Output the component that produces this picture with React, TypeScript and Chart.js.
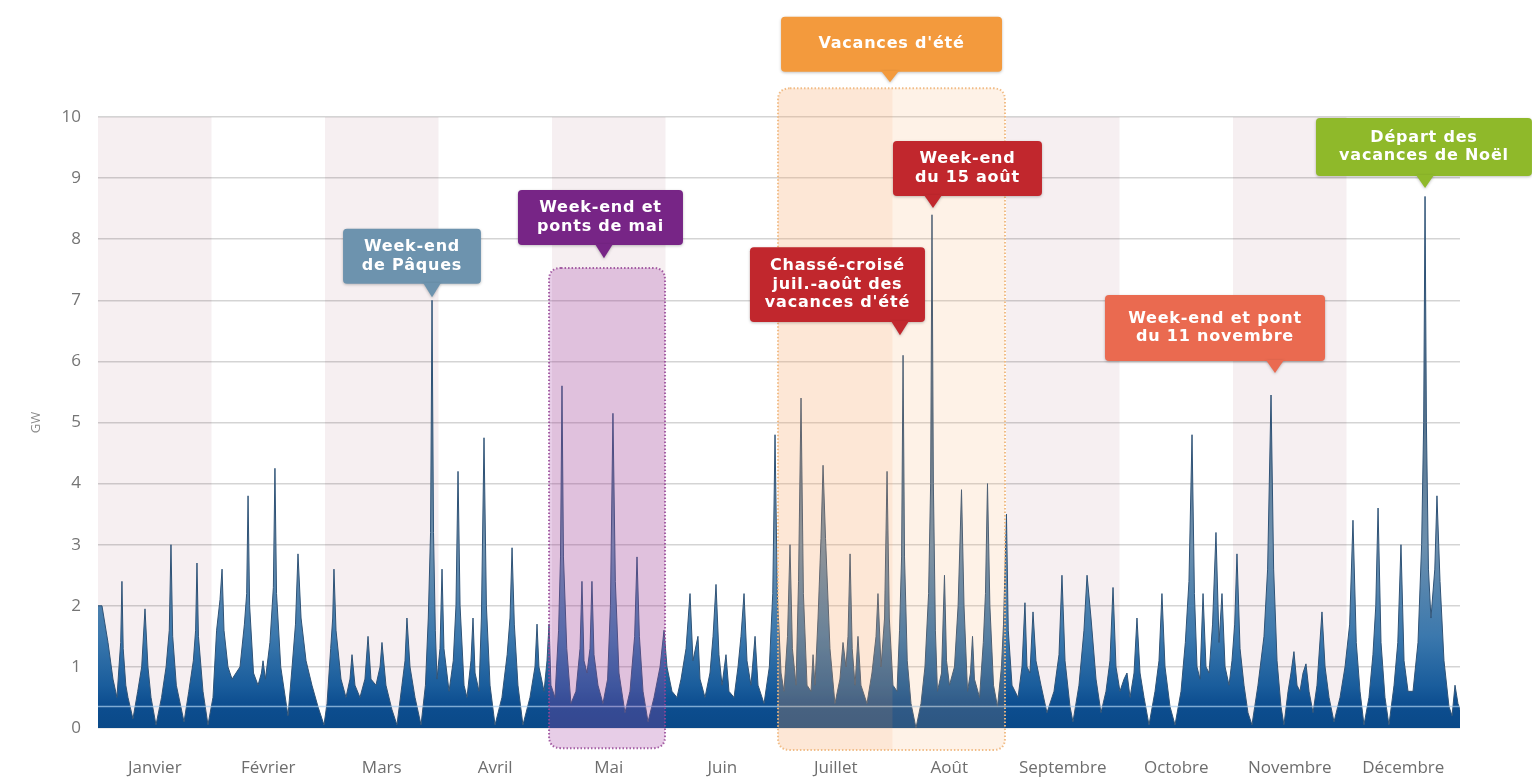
import React, { useEffect, useRef } from "react";
import { Chart, registerables } from "chart.js";

Chart.register(...registerables);

// ---------- axis labels ----------
const monthLabels = [
  "Janvier", "Février", "Mars", "Avril", "Mai", "Juin",
  "Juillet", "Août", "Septembre", "Octobre", "Novembre", "Décembre",
];
const yTickValues = [0, 1, 2, 3, 4, 5, 6, 7, 8, 9, 10];
const shadedMonths = [0, 2, 4, 8, 10];

// ---------- series: [position inside month (0..1), GW] ----------
const janvier: [number, number][] = [
  [0, 2.0], [0.035, 2.0], [0.088, 1.4], [0.132, 0.8], [0.167, 0.5], [0.185, 1.0], [0.2, 1.4], [0.211, 2.4], [0.222, 1.3],
  [0.245, 0.7], [0.264, 0.5], [0.308, 0.15], [0.35, 0.6], [0.385, 1.0], [0.414, 1.95], [0.44, 1.0], [0.467, 0.5], [0.511, 0.05],
  [0.56, 0.5], [0.6, 1.0], [0.628, 1.6], [0.643, 3.0], [0.658, 1.5], [0.69, 0.7], [0.758, 0.1], [0.8, 0.6], [0.84, 1.1],
  [0.86, 1.6], [0.872, 2.7], [0.885, 1.5], [0.925, 0.6], [0.969, 0.05],
];
const fevrier: [number, number][] = [
  [0.013, 0.5], [0.045, 1.6], [0.075, 2.1], [0.093, 2.6], [0.11, 1.6], [0.145, 1.0], [0.181, 0.8], [0.251, 1.0],
  [0.29, 1.7], [0.31, 2.2], [0.322, 3.8], [0.336, 2.0], [0.37, 0.9], [0.41, 0.7], [0.44, 0.9], [0.454, 1.1], [0.475, 0.8], [0.515, 1.4],
  [0.545, 2.3], [0.559, 4.25], [0.573, 2.2], [0.61, 1.0], [0.674, 0.2], [0.71, 1.0], [0.74, 1.7], [0.762, 2.85], [0.789, 1.8],
  [0.833, 1.1], [0.885, 0.7], [0.938, 0.35], [0.991, 0.05],
];
const mars: [number, number][] = [
  [0.018, 0.4], [0.05, 1.3], [0.068, 1.8], [0.079, 2.6], [0.097, 1.6], [0.141, 0.8], [0.185, 0.5], [0.22, 0.8], [0.238, 1.2],
  [0.264, 0.7], [0.308, 0.5], [0.352, 0.8], [0.379, 1.5], [0.405, 0.8], [0.449, 0.7], [0.485, 1.0], [0.502, 1.4],
  [0.537, 0.7], [0.59, 0.3], [0.634, 0.05], [0.678, 0.7], [0.705, 1.1], [0.722, 1.8], [0.749, 1.0], [0.793, 0.5],
  [0.846, 0.05], [0.885, 0.7], [0.91, 1.8], [0.93, 3.2], [0.943, 7.0], [0.956, 3.2], [0.972, 1.6], [0.987, 0.8],
];
const avril: [number, number][] = [
  [0.013, 1.3], [0.031, 2.6], [0.048, 1.3], [0.093, 0.6], [0.13, 1.1], [0.154, 2.0], [0.172, 4.2], [0.19, 2.0],
  [0.225, 0.7], [0.251, 0.5], [0.286, 1.1], [0.304, 1.8], [0.322, 0.9], [0.357, 0.6], [0.378, 1.8], [0.401, 4.75],
  [0.422, 2.0], [0.454, 0.7], [0.498, 0.05], [0.559, 0.5], [0.605, 1.2], [0.63, 1.8], [0.648, 2.95], [0.668, 1.7],
  [0.7, 0.7], [0.744, 0.05], [0.806, 0.5], [0.85, 1.0], [0.868, 1.7], [0.885, 1.0], [0.93, 0.6], [0.956, 1.1],
  [0.974, 1.7], [0.991, 0.7],
];
const mai: [number, number][] = [
  [0.026, 0.5], [0.058, 1.6], [0.075, 2.8], [0.088, 5.6], [0.101, 2.8], [0.13, 1.3], [0.167, 0.4], [0.211, 0.6],
  [0.247, 1.3], [0.264, 2.4], [0.282, 1.1], [0.308, 0.9], [0.335, 1.3], [0.352, 2.4], [0.37, 1.2], [0.405, 0.7],
  [0.449, 0.4], [0.49, 0.8], [0.515, 2.0], [0.537, 5.15], [0.558, 2.4], [0.59, 0.9], [0.643, 0.25], [0.687, 0.6],
  [0.728, 1.5], [0.749, 2.8], [0.77, 1.5], [0.802, 0.6], [0.846, 0.1], [0.899, 0.5], [0.952, 1.0], [0.987, 1.6],
];
const juin: [number, number][] = [
  [0.013, 1.0], [0.057, 0.6], [0.101, 0.5], [0.137, 0.8], [0.181, 1.3], [0.216, 2.2], [0.242, 1.1], [0.286, 1.5],
  [0.304, 0.8], [0.348, 0.5], [0.392, 0.9], [0.419, 1.5], [0.445, 2.35], [0.471, 1.2], [0.498, 0.7], [0.533, 1.2],
  [0.559, 0.6], [0.604, 0.5], [0.639, 1.0], [0.665, 1.5], [0.692, 2.2], [0.718, 1.1], [0.753, 0.7], [0.789, 1.5],
  [0.815, 0.7], [0.868, 0.4], [0.915, 1.0], [0.945, 2.2], [0.965, 4.8], [0.985, 2.2],
];
const juillet: [number, number][] = [
  [0.018, 0.9], [0.044, 0.6], [0.075, 1.5], [0.097, 3.0], [0.118, 1.3], [0.15, 0.7], [0.172, 2.4], [0.194, 5.4],
  [0.215, 2.2], [0.247, 0.7], [0.282, 0.6], [0.3, 1.2], [0.317, 0.7], [0.344, 1.8], [0.37, 3.1], [0.388, 4.3],
  [0.41, 3.1], [0.449, 1.3], [0.493, 0.4], [0.537, 0.8], [0.564, 1.4], [0.59, 1.0], [0.608, 1.5], [0.626, 2.85],
  [0.645, 1.3], [0.67, 0.7], [0.696, 1.5], [0.722, 0.7], [0.775, 0.4], [0.819, 0.9], [0.855, 1.5], [0.872, 2.2],
  [0.899, 1.0], [0.93, 1.8], [0.952, 4.2], [0.972, 1.8],
];
const aout: [number, number][] = [
  [0.004, 0.7], [0.04, 0.6], [0.062, 1.6], [0.08, 2.8], [0.093, 6.1], [0.106, 2.8], [0.13, 1.1], [0.163, 0.4],
  [0.207, 0.0], [0.251, 0.4], [0.286, 1.0], [0.318, 2.2], [0.336, 4.0], [0.348, 8.4], [0.36, 4.0], [0.378, 1.6],
  [0.396, 0.6], [0.432, 0.9], [0.458, 2.5], [0.476, 1.1], [0.502, 0.7], [0.546, 1.0], [0.578, 2.0], [0.608, 3.9],
  [0.63, 2.0], [0.661, 0.6], [0.687, 0.9], [0.705, 1.5], [0.722, 0.8], [0.767, 0.5], [0.8, 1.4], [0.819, 2.2],
  [0.837, 4.0], [0.858, 2.0], [0.89, 0.7], [0.925, 0.35], [0.96, 1.0], [0.978, 1.7],
];
const septembre: [number, number][] = [
  [0.004, 3.5], [0.02, 1.6], [0.053, 0.7], [0.106, 0.5], [0.141, 1.0], [0.167, 2.05], [0.185, 1.0], [0.211, 0.9],
  [0.238, 1.9], [0.264, 1.1], [0.308, 0.7], [0.361, 0.25], [0.423, 0.6], [0.467, 1.2], [0.493, 2.5], [0.52, 1.1],
  [0.564, 0.35], [0.59, 0.1], [0.643, 0.7], [0.687, 1.6], [0.714, 2.5], [0.749, 1.8], [0.793, 0.8], [0.837, 0.25],
  [0.881, 0.6], [0.916, 1.1], [0.943, 2.3], [0.969, 1.0],
];
const octobre: [number, number][] = [
  [0.004, 0.6], [0.04, 0.8], [0.066, 0.9], [0.093, 0.5], [0.128, 0.9], [0.154, 1.8], [0.181, 0.9], [0.216, 0.5],
  [0.26, 0.05], [0.313, 0.6], [0.348, 1.1], [0.374, 2.2], [0.401, 1.0], [0.445, 0.35], [0.489, 0.05], [0.542, 0.6],
  [0.58, 1.4], [0.612, 2.4], [0.639, 4.8], [0.66, 2.2], [0.683, 1.0], [0.709, 0.8], [0.736, 2.2], [0.762, 1.0],
  [0.789, 0.9], [0.82, 1.7], [0.85, 3.2], [0.877, 1.4], [0.903, 2.2], [0.93, 1.0], [0.965, 0.7], [0.991, 1.1],
];
const novembre: [number, number][] = [
  [0.015, 1.7], [0.035, 2.85], [0.062, 1.3], [0.097, 0.7], [0.132, 0.25], [0.167, 0.05], [0.22, 0.7], [0.273, 1.5],
  [0.305, 2.6], [0.335, 5.45], [0.358, 2.6], [0.388, 1.1], [0.423, 0.35], [0.449, 0.05], [0.485, 0.6], [0.511, 0.9],
  [0.537, 1.25], [0.564, 0.7], [0.59, 0.6], [0.617, 0.9], [0.643, 1.05], [0.67, 0.6], [0.705, 0.25], [0.74, 0.7],
  [0.784, 1.9], [0.811, 1.0], [0.846, 0.5], [0.89, 0.1], [0.943, 0.5], [0.987, 1.0],
];
const decembre: [number, number][] = [
  [0.028, 1.7], [0.057, 3.4], [0.086, 1.4], [0.119, 0.6], [0.154, 0.05], [0.198, 0.5], [0.233, 1.2], [0.258, 2.0],
  [0.278, 3.6], [0.304, 1.4], [0.339, 0.5], [0.374, 0.05], [0.419, 0.7], [0.452, 1.4], [0.48, 3.0], [0.507, 1.1],
  [0.542, 0.6], [0.586, 0.6], [0.63, 1.4], [0.662, 3.0], [0.68, 5.0], [0.692, 8.7], [0.704, 5.0], [0.722, 2.6],
  [0.744, 1.8], [0.778, 2.6], [0.797, 3.8], [0.824, 2.4], [0.859, 1.1], [0.903, 0.35], [0.93, 0.2], [0.956, 0.7],
  [0.982, 0.4], [1, 0.3],
];
const monthSeries = [janvier, fevrier, mars, avril, mai, juin, juillet, aout, septembre, octobre, novembre, decembre];

// ---------- annotations (in data units: months / GW) ----------
const periods = [
  { x0: 3.974, x1: 4.996, yTop: 7.53, yBottom: -0.33, fill: "rgba(165,70,165,0.27)", stroke: "rgba(150,70,150,0.85)", split: null as number | null, splitFill: "" },
  { x0: 5.991, x1: 7.991, yTop: 10.47, yBottom: -0.36, fill: "rgba(245,165,95,0.15)", stroke: "rgba(240,185,130,0.95)", split: 7.0, splitFill: "rgba(245,160,90,0.12)" },
];

const callouts = [
  { lines: ["Vacances d'été"], color: "#f39a3d", x0: 6.018, x1: 7.965, yTop: 11.64, yBottom: 10.74, tipX: 6.978, tipY: 10.57 },
  { lines: ["Week-end", "de Pâques"], color: "#6d93ae", x0: 2.159, x1: 3.374, yTop: 8.17, yBottom: 7.27, tipX: 2.943, tipY: 7.05 },
  { lines: ["Week-end et", "ponts de mai"], color: "#772586", x0: 3.7, x1: 5.154, yTop: 8.805, yBottom: 7.905, tipX: 4.458, tipY: 7.69 },
  { lines: ["Chassé-croisé", "juil.-août des", "vacances d'été"], color: "#c1272d", x0: 5.744, x1: 7.286, yTop: 7.87, yBottom: 6.645, tipX: 7.066, tipY: 6.43 },
  { lines: ["Week-end", "du 15 août"], color: "#c1272d", x0: 7.004, x1: 8.317, yTop: 9.607, yBottom: 8.707, tipX: 7.357, tipY: 8.51 },
  { lines: ["Week-end et pont", "du 11 novembre"], color: "#ea6a50", x0: 8.872, x1: 10.811, yTop: 7.087, yBottom: 6.007, tipX: 10.37, tipY: 5.81 },
  { lines: ["Départ des", "vacances de Noël"], color: "#8fb92a", x0: 10.731, x1: 12.634, yTop: 9.984, yBottom: 9.034, tipX: 11.692, tipY: 8.838 },
];

function rr(ctx: CanvasRenderingContext2D, x: number, y: number, w: number, h: number, r: number) {
  ctx.beginPath();
  ctx.moveTo(x + r, y);
  ctx.lineTo(x + w - r, y);
  ctx.quadraticCurveTo(x + w, y, x + w, y + r);
  ctx.lineTo(x + w, y + h - r);
  ctx.quadraticCurveTo(x + w, y + h, x + w - r, y + h);
  ctx.lineTo(x + r, y + h);
  ctx.quadraticCurveTo(x, y + h, x, y + h - r);
  ctx.lineTo(x, y + r);
  ctx.quadraticCurveTo(x, y, x + r, y);
  ctx.closePath();
}

const decor = {
  id: "decor",
  beforeDraw(chart: any) {
    const { ctx, chartArea: a, scales } = chart;
    const x = scales.x;
    ctx.save();
    ctx.fillStyle = "#f6eff1";
    shadedMonths.forEach((i) => {
      const l = x.getPixelForValue(i);
      const r = x.getPixelForValue(i + 1);
      ctx.fillRect(l, a.top, r - l, a.bottom - a.top);
    });
    ctx.restore();
  },
  afterDatasetsDraw(chart: any) {
    const { ctx, chartArea: a, scales } = chart;
    const x = scales.x;
    const y = scales.y;
    ctx.save();
    ctx.strokeStyle = "rgba(175,210,240,0.7)";
    ctx.lineWidth = 1.5;
    const yl = y.getPixelForValue(0.35);
    ctx.beginPath();
    ctx.moveTo(a.left, yl);
    ctx.lineTo(a.right, yl);
    ctx.stroke();
    periods.forEach((p) => {
      const l = x.getPixelForValue(p.x0);
      const r = x.getPixelForValue(p.x1);
      const t = y.getPixelForValue(p.yTop);
      const b = y.getPixelForValue(p.yBottom);
      ctx.save();
      rr(ctx, l, t, r - l, b - t, 12);
      ctx.fillStyle = p.fill;
      ctx.fill();
      if (p.split !== null) {
        ctx.clip();
        const s = x.getPixelForValue(p.split);
        ctx.fillStyle = p.splitFill;
        ctx.fillRect(l, t, s - l, b - t);
      }
      ctx.restore();
      rr(ctx, l, t, r - l, b - t, 12);
      ctx.setLineDash([1.5, 2]);
      ctx.lineWidth = 2;
      ctx.strokeStyle = p.stroke;
      ctx.stroke();
      ctx.setLineDash([]);
    });
    ctx.restore();
  },
  afterDraw(chart: any) {
    const { ctx, scales } = chart;
    const x = scales.x;
    const y = scales.y;
    callouts.forEach((c) => {
      const l = x.getPixelForValue(c.x0);
      const r = x.getPixelForValue(c.x1);
      const t = y.getPixelForValue(c.yTop);
      const b = y.getPixelForValue(c.yBottom);
      const tx = x.getPixelForValue(c.tipX);
      const ty = y.getPixelForValue(c.tipY);
      ctx.save();
      ctx.shadowColor = "rgba(0,0,0,0.25)";
      ctx.shadowBlur = 3;
      ctx.shadowOffsetY = 1;
      ctx.fillStyle = c.color;
      rr(ctx, l, t, r - l, b - t, 4);
      ctx.fill();
      ctx.beginPath();
      ctx.moveTo(tx - 9, b - 1);
      ctx.lineTo(tx + 9, b - 1);
      ctx.lineTo(tx, ty);
      ctx.closePath();
      ctx.fill();
      ctx.shadowColor = "transparent";
      ctx.fillStyle = "#ffffff";
      ctx.font = "bold 16px 'DejaVu Sans', sans-serif";
      (ctx as any).letterSpacing = "0.8px";
      ctx.textAlign = "center";
      ctx.textBaseline = "middle";
      const lh = 18.5;
      const cy = (t + b) / 2;
      const n = c.lines.length;
      c.lines.forEach((ln, i) => {
        ctx.fillText(ln, (l + r) / 2, cy + (i - (n - 1) / 2) * lh);
      });
      ctx.restore();
    });
  },
};

export default function App() {
  const ref = useRef<HTMLCanvasElement | null>(null);

  useEffect(() => {
    document.body.style.margin = "0";
    const canvas = ref.current;
    if (!canvas) return;
    Chart.defaults.font.family = "'Open Sans', sans-serif";

    const points = monthSeries.flatMap((pts, i) => pts.map(([f, v]) => ({ x: i + f, y: v })));

    const chart = new Chart(canvas, {
      type: "line",
      data: {
        datasets: [
          {
            data: points,
            fill: "origin",
            tension: 0,
            pointRadius: 0,
            borderWidth: 1,
            borderColor: "#2f5377",
            backgroundColor: (c: any) => {
              const ch = c.chart;
              const { chartArea, scales } = ch;
              if (!chartArea) return "#0d4c8c";
              const y0 = scales.y.getPixelForValue(0);
              const y1 = scales.y.getPixelForValue(5);
              const g = ch.ctx.createLinearGradient(0, y0, 0, y1);
              g.addColorStop(0, "#0a4988");
              g.addColorStop(0.08, "#0d4e90");
              g.addColorStop(0.14, "#1a5d9c");
              g.addColorStop(0.3, "#3b78ad");
              g.addColorStop(0.6, "#6d90ae");
              g.addColorStop(1, "#5a7690");
              return g;
            },
          },
        ],
      },
      options: {
        animation: false,
        responsive: true,
        maintainAspectRatio: false,
        layout: { padding: { left: 0, right: 72, top: 117, bottom: 0 } },
        plugins: { legend: { display: false }, tooltip: { enabled: false } },
        scales: {
          x: {
            type: "linear",
            min: 0,
            max: 12,
            afterFit: (s: any) => { s.height = 52; },
            afterBuildTicks: (s: any) => {
              s.ticks = monthLabels.map((_, i) => ({ value: i + 0.5 }));
            },
            ticks: {
              autoSkip: false,
              maxRotation: 0,
              padding: 30,
              color: "#6e6e6e",
              font: { size: 17 },
              callback: (_v: any, i: number) => monthLabels[i],
            },
            grid: { display: false, drawTicks: false },
            border: { display: false },
          },
          y: {
            min: 0,
            max: 10,
            afterFit: (s: any) => { s.width = 98; },
            afterBuildTicks: (s: any) => {
              s.ticks = yTickValues.map((v) => ({ value: v }));
            },
            ticks: { padding: 17, color: "#757575", font: { size: 17 } },
            grid: { color: "rgba(0,0,0,0.17)", lineWidth: 1.5, drawTicks: false },
            border: { display: false },
            title: { display: true, text: "GW", color: "#8a8a8a", font: { size: 13 }, padding: { top: 28, bottom: 0 } },
          },
        },
      },
      plugins: [decor],
    });
    return () => chart.destroy();
  }, []);

  return (
    <div style={{ position: "relative", width: 1532, height: 780 }}>
      <canvas ref={ref} />
    </div>
  );
}
